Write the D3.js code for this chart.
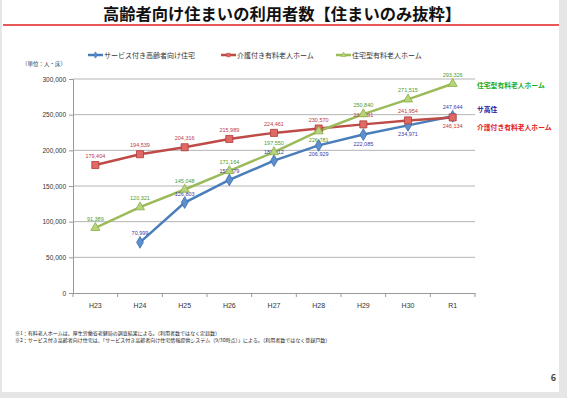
<!DOCTYPE html>
<html><head><meta charset="utf-8">
<script src="https://cdn.jsdelivr.net/npm/d3@7"></script>
<style>
html,body{margin:0;padding:0;background:#e6e6e6;}
svg{display:block;font-family:"Noto Sans CJK JP","Noto Sans",sans-serif;}
</style></head>
<body>
<svg id="c" width="567" height="398"></svg>
<script>
const categories = ["H23","H24","H25","H26","H27","H28","H29","H30","R1"];
const sakoujuValues = [null,70999,126803,158579,185512,206929,222085,234971,247644];
const kaigoValues = [179404,194539,204316,215989,224461,230570,236391,241954,246134];
const juutakuValues = [91389,120321,145048,171164,197550,226781,250840,271515,293326];
const yTicks = [0,50000,100000,150000,200000,250000,300000];
const seriesNames = ["サービス付き高齢者向け住宅","介護付き有料老人ホーム","住宅型有料老人ホーム"];
const rightLabels = ["サ高住","介護付き有料老人ホーム","住宅型有料老人ホーム"];
const titleText = "高齢者向け住まいの利用者数【住まいのみ抜粋】";
const unitText = "（単位：人・床）";
const footnotes = [
  "※1：有料老人ホームは、厚生労働省老健局の調査結果による。（利用者数ではなく定員数）",
  "※2：サービス付き高齢者向け住宅は、「サービス付き高齢者向け住宅情報提供システム（9/30時点）」による。（利用者数ではなく登録戸数）"
];
const pageNo = "6";

// label placement: "a" above, "b" below
const sakoujuPos = ["a","a","a","a","a","b","b","b","a"];
const kaigoPos = ["a","a","a","a","a","a","a","a","b"];
const juutakuPos = ["a","a","a","a","a","b","a","a","a"];

const svg = d3.select("#c");
svg.append("rect").attr("x",2).attr("y",0).attr("width",557).attr("height",392).attr("fill","#fff");

svg.append("text").attr("x",282).attr("y",20).attr("text-anchor","middle")
  .attr("font-size",16.3).attr("font-weight","bold").attr("fill","#111").text(titleText);
svg.append("line").attr("x1",3).attr("x2",559).attr("y1",25).attr("y2",25)
  .attr("stroke","#e02020").attr("stroke-width",1.5);

const x = d3.scaleBand().domain(categories).range([73,475]);
const y = d3.scaleLinear().domain([0,300000]).range([293,79]);

// gridlines
svg.append("g").selectAll("line").data(yTicks.filter(d=>d>0)).join("line")
  .attr("x1",73).attr("x2",475).attr("y1",d=>y(d)).attr("y2",d=>y(d))
  .attr("stroke","#b4b4b4").attr("stroke-width",1);

const yAxis = svg.append("g").attr("transform","translate(73,0)")
  .call(d3.axisLeft(y).tickValues(yTicks).tickFormat(d3.format(",")).tickSize(4).tickPadding(3));
yAxis.select(".domain").attr("stroke","#999");
yAxis.selectAll(".tick line").attr("stroke","#999");
yAxis.selectAll("text").attr("font-size",6.5).attr("fill","#333").attr("font-family","Liberation Sans, sans-serif");

const xAxis = svg.append("g").attr("transform","translate(0,293)")
  .call(d3.axisBottom(x).tickSize(0).tickPadding(10));
xAxis.select(".domain").attr("stroke","#999");
xAxis.selectAll("text").attr("font-size",7).attr("fill","#333").attr("font-family","Liberation Sans, sans-serif");
// boundary ticks
svg.append("g").selectAll("line").data(d3.range(categories.length+1)).join("line")
  .attr("x1",i=>73+i*x.step()).attr("x2",i=>73+i*x.step()).attr("y1",293).attr("y2",297)
  .attr("stroke","#999");

const cx = c => x(c)+x.bandwidth()/2;
const series = [
  {vals:sakoujuValues,color:"#4a7ebb",stroke:"#3d6da8",fill:"#5b8fd0",marker:"diamond",label:"#3a3aa8",pos:sakoujuPos},
  {vals:kaigoValues,color:"#be4b48",stroke:"#b03a38",fill:"#e06a66",marker:"square",label:"#c0393b",pos:kaigoPos},
  {vals:juutakuValues,color:"#9bbb59",stroke:"#8aab48",fill:"#b6d47a",marker:"triangle",label:"#4e9a2e",pos:juutakuPos}
];
const line = d3.line().defined(d=>d.v!=null).x(d=>cx(d.c)).y(d=>y(d.v));
const symType = {diamond:d3.symbolDiamond,square:d3.symbolSquare,triangle:d3.symbolTriangle};
const symSize = {diamond:40,square:50,triangle:36};

series.forEach(s=>{
  const data = categories.map((c,i)=>({c,v:s.vals[i],p:s.pos[i]}));
  svg.append("path").datum(data).attr("d",line).attr("fill","none")
    .attr("stroke",s.color).attr("stroke-width",2.5);
});
series.forEach(s=>{
  const data = categories.map((c,i)=>({c,v:s.vals[i],p:s.pos[i]})).filter(d=>d.v!=null);
  svg.append("g").selectAll("path").data(data).join("path")
    .attr("transform",d=>`translate(${cx(d.c)},${y(d.v)})`)
    .attr("d",d3.symbol().type(symType[s.marker]).size(symSize[s.marker]))
    .attr("fill",s.fill).attr("stroke",s.stroke).attr("stroke-width",0.8);
  svg.append("g").selectAll("text").data(data).join("text")
    .attr("x",d=>cx(d.c)).attr("y",d=>y(d.v)+(d.p==="a"?-7:11))
    .attr("text-anchor","middle").attr("font-size",5.5).attr("fill",s.label)
    .attr("font-family","Liberation Sans, sans-serif")
    .text(d=>d3.format(",")(d.v));
});

// legend
const legX = [88,221,336];
series.forEach((s,i)=>{
  const g = svg.append("g").attr("transform",`translate(${legX[i]},55)`);
  g.append("line").attr("x1",0).attr("x2",15).attr("stroke",s.color).attr("stroke-width",2.5);
  g.append("path").attr("transform","translate(7.5,0)")
    .attr("d",d3.symbol().type(symType[s.marker]).size(12))
    .attr("fill",s.fill).attr("stroke",s.stroke).attr("stroke-width",0.5);
  g.append("text").attr("x",16).attr("y",2.5).attr("font-size",7).attr("fill","#333").text(seriesNames[i]);
});

svg.append("text").attr("x",22).attr("y",66).attr("font-size",5.5).attr("fill","#333").text(unitText);

// right labels
const rl = [{t:rightLabels[2],y:88,c:"#1fae2a"},{t:rightLabels[0],y:112,c:"#1a1aa0"},{t:rightLabels[1],y:130,c:"#e02424"}];
svg.append("g").selectAll("text").data(rl).join("text")
  .attr("x",477).attr("y",d=>d.y).attr("font-size",6.8).attr("font-weight","bold")
  .attr("fill",d=>d.c).text(d=>d.t);

svg.append("g").selectAll("text").data(footnotes).join("text")
  .attr("x",15).attr("y",(d,i)=>335+i*7).attr("font-size",5).attr("fill","#222").text(d=>d);

svg.append("text").attr("x",556).attr("y",381).attr("text-anchor","end")
  .attr("font-size",9).attr("font-weight","bold").attr("fill","#444").text(pageNo);
</script>
</body></html>
